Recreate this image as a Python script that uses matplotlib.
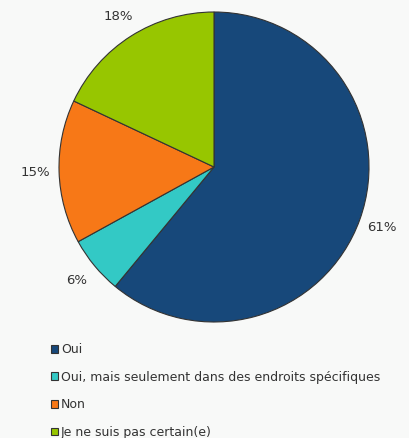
import matplotlib.pyplot as plt

# données du graphique
categories = ['Oui', 'Oui, mais seulement dans des endroits spécifiques', 'Non', 'Je ne suis pas certain(e)']
values = [61, 6, 15, 18]
colors = ['#17487a', '#33c9c5', '#f77817', '#97c600']

fig = plt.figure(figsize=(4.1, 4.38), dpi=100, facecolor='#f8f9f8')
ax = fig.add_axes([59 / 410, 116 / 438, 310 / 410, 310 / 438])
ax.set_facecolor('#f8f9f8')

wedges, texts = ax.pie(values, colors=colors, startangle=90, counterclock=False,
                       labels=[f'{v}%' for v in values], labeldistance=1.15,
                       wedgeprops=dict(edgecolor='#333333', linewidth=0.8),
                       textprops=dict(fontsize=9.5, color='#333333'))
for t in texts:
    t.set_horizontalalignment('center')
ax.set_xlim(-1, 1)
ax.set_ylim(-1, 1)
ax.set_aspect('equal')

leg = fig.legend(wedges, categories, loc='upper left', bbox_to_anchor=(46 / 410, 1 - 338 / 438),
                 frameon=False, fontsize=9, handlelength=0.6, handleheight=0.6,
                 handletextpad=0.2, labelspacing=1.17, borderaxespad=0)
for t in leg.get_texts():
    t.set_color('#333333')

fig.savefig('out.png', dpi=100, facecolor=fig.get_facecolor())
